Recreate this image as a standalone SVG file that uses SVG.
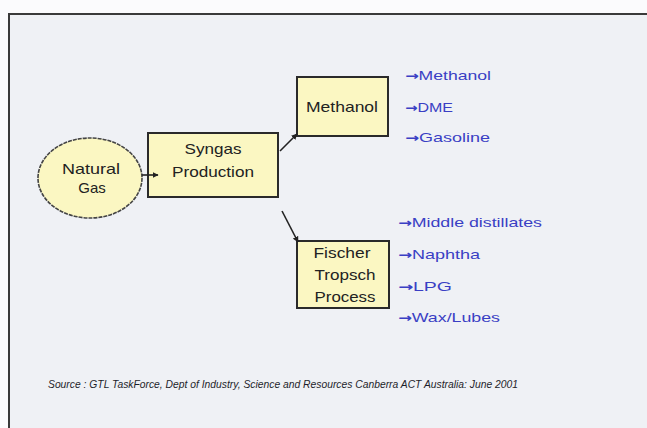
<svg xmlns="http://www.w3.org/2000/svg" width="647" height="428" viewBox="0 0 647 428">
  <defs>
    <marker id="ah" viewBox="0 0 10 10" refX="9" refY="5" markerWidth="6" markerHeight="6" orient="auto" markerUnits="userSpaceOnUse">
      <path d="M0,0 L10,5 L0,10 z" fill="#222"/>
    </marker>
    <style>
      .box { fill: #fbf7c2; stroke: #2a2a2a; stroke-width: 2; }
      .lbl { font-family: "Liberation Sans", Arial, sans-serif; font-size: 15px; fill: #222; text-anchor: middle; }
      .out { font-family: "Liberation Sans", Arial, sans-serif; font-size: 13px; fill: #3a3fc4; }
      .arr { font-family: "DejaVu Sans", sans-serif; font-weight: bold; font-size: 12px; }
      .conn { stroke: #222; stroke-width: 1.6; fill: none; }
    </style>
  </defs>
  <rect x="0" y="0" width="647" height="428" fill="#fbfbfd"/>
  <rect x="9" y="14" width="640" height="420" fill="#eff1f5"/>
  <line x1="8" y1="14" x2="647" y2="14" stroke="#3a3a3a" stroke-width="2"/>
  <line x1="9" y1="13" x2="9" y2="428" stroke="#3a3a3a" stroke-width="2"/>

  <g id="natural-gas">
    <ellipse cx="90" cy="178" rx="52" ry="40" fill="#fbf7c2" stroke="#444" stroke-width="1.6" stroke-dasharray="4 1"/>
    <text class="lbl" x="91" y="174" textLength="58" lengthAdjust="spacingAndGlyphs">Natural</text>
    <text class="lbl" x="92" y="193">Gas</text>
  </g>

  <g id="syngas">
    <rect class="box" x="148" y="133" width="130" height="64"/>
    <text class="lbl" x="213" y="154" textLength="57" lengthAdjust="spacingAndGlyphs">Syngas</text>
    <text class="lbl" x="213" y="177" textLength="82" lengthAdjust="spacingAndGlyphs">Production</text>
  </g>

  <g id="methanol">
    <rect class="box" x="297" y="77" width="91" height="59"/>
    <text class="lbl" x="342" y="112" textLength="72" lengthAdjust="spacingAndGlyphs">Methanol</text>
  </g>

  <g id="fischer-tropsch">
    <rect class="box" x="297" y="241" width="92" height="67"/>
    <text class="lbl" x="342" y="258" textLength="57" lengthAdjust="spacingAndGlyphs">Fischer</text>
    <text class="lbl" x="345" y="280" textLength="61" lengthAdjust="spacingAndGlyphs">Tropsch</text>
    <text class="lbl" x="345" y="302" textLength="61" lengthAdjust="spacingAndGlyphs">Process</text>
  </g>

  <g id="methanol-products">
    <text class="out" x="405" y="80" textLength="86" lengthAdjust="spacingAndGlyphs"><tspan class="arr">→</tspan>Methanol</text>
    <text class="out" x="405" y="112" textLength="48" lengthAdjust="spacingAndGlyphs"><tspan class="arr">→</tspan>DME</text>
    <text class="out" x="405" y="142" textLength="85" lengthAdjust="spacingAndGlyphs"><tspan class="arr">→</tspan>Gasoline</text>
  </g>

  <g id="ft-products">
    <text class="out" x="398" y="227" textLength="144" lengthAdjust="spacingAndGlyphs"><tspan class="arr">→</tspan>Middle distillates</text>
    <text class="out" x="398" y="259" textLength="82" lengthAdjust="spacingAndGlyphs"><tspan class="arr">→</tspan>Naphtha</text>
    <text class="out" x="398" y="291" textLength="54" lengthAdjust="spacingAndGlyphs"><tspan class="arr">→</tspan>LPG</text>
    <text class="out" x="398" y="322" textLength="102" lengthAdjust="spacingAndGlyphs"><tspan class="arr">→</tspan>Wax/Lubes</text>
  </g>

  <g id="connectors">
    <line class="conn" x1="142" y1="175" x2="158" y2="175" marker-end="url(#ah)"/>
    <line class="conn" x1="280" y1="151" x2="297" y2="134" marker-end="url(#ah)"/>
    <line class="conn" x1="282" y1="211" x2="298" y2="242" marker-end="url(#ah)"/>
  </g>

  <text x="48" y="388" font-family="Liberation Sans, Arial, sans-serif" font-size="10.5" font-style="italic" fill="#1e1e2a" textLength="470" lengthAdjust="spacingAndGlyphs">Source : GTL TaskForce, Dept of Industry, Science and Resources Canberra ACT Australia: June 2001</text>
</svg>
